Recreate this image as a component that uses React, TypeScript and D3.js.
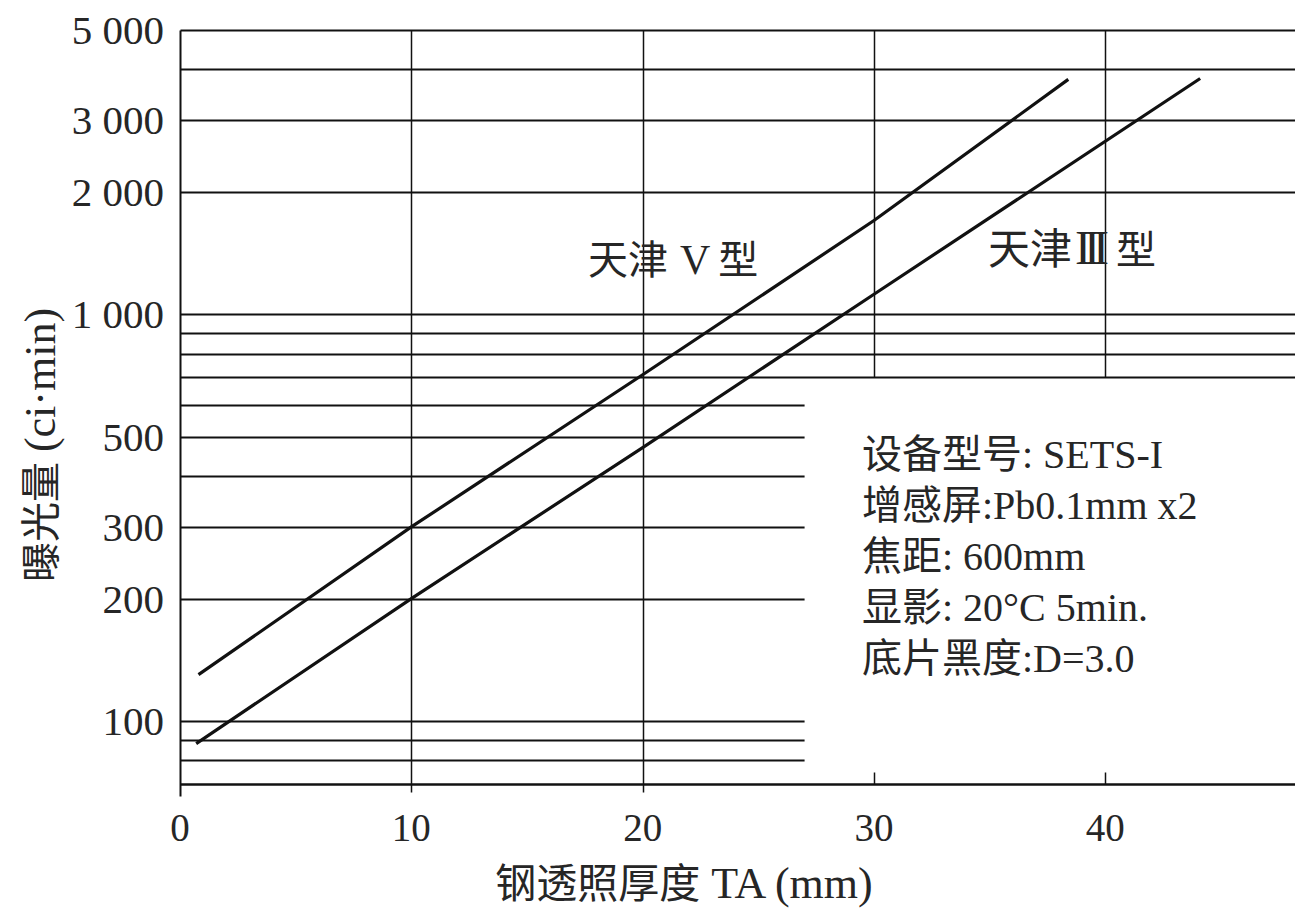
import React from 'react';
import * as d3 from 'd3';

// ---- data ----
const xTickValues = [0, 10, 20, 30, 40];
const xTickLabels = ['0', '10', '20', '30', '40'];
const yTickValues = [5000, 3000, 2000, 1000, 500, 300, 200, 100];
const yTickLabels = ['5 000', '3 000', '2 000', '1 000', '500', '300', '200', '100'];
const fullGridValues = [5000, 4000, 3000, 2000, 1000, 900, 800, 700];
const shortGridValues = [600, 500, 400, 300, 200, 100, 90, 80];
const fullVerticals = [10, 20];
const upperVerticals = [30, 40];

const seriesV = ['天津', 'V', '型'];
const seriesIII = ['天津', 'III', '型'];
const thicknessV = [0.8, 10, 20, 30, 38.4];
const exposureV = [130, 300, 710, 1700, 3780];
const thicknessIII = [0.7, 10, 20, 30, 44.1];
const exposureIII = [88, 200, 470, 1120, 3800];

const notes = [
  '设备型号: SETS-I',
  '增感屏:Pb0.1mm x2',
  '焦距: 600mm',
  '显影: 20°C 5min.',
  '底片黑度:D=3.0',
];

const xTitleCjk = '钢透照厚度';
const xTitleLatin = ' TA (mm)';
const yTitleCjk = '曝光量 ';
const yTitleLatin = '(ci·min)';

// ---- layout ----
const W = 1295;
const H = 910;
const SERIF = "'Liberation Serif', 'Noto Sans CJK SC', serif";
const CJK = "'Noto Sans CJK SC', sans-serif";
const INK = '#111';
const TEXT = '#262626';

const snap = (v: number) => Math.round(v) + 0.5;

export default function App() {
  const x = d3.scaleLinear().domain([0, 48.2]).range([180, 1295]);
  const y = d3.scaleLog().domain([70, 5000]).range([784, 30]);
  const line = d3
    .line<[number, number]>()
    .x((d) => x(d[0]))
    .y((d) => y(d[1]));

  const dataV: [number, number][] = thicknessV.map((t, i) => [t, exposureV[i]]);
  const dataIII: [number, number][] = thicknessIII.map((t, i) => [t, exposureIII[i]]);
  const x0 = snap(x(0));
  const shortEnd = x(27);
  const yBottom = snap(y(70));
  const yTop = snap(y(5000));

  return (
    <svg
      width={W}
      height={H}
      style={{ position: 'absolute', left: 0, top: 0, background: '#fff' }}
      fontFamily={SERIF}
    >
      <rect x={0} y={0} width={W} height={H} fill="#fff" />

      {/* horizontal grid lines, full width */}
      {fullGridValues.map((v) => (
        <line key={'f' + v} x1={x0} x2={W} y1={snap(y(v))} y2={snap(y(v))} stroke={INK} strokeWidth={2} />
      ))}
      {/* horizontal grid lines, short */}
      {shortGridValues.map((v) => (
        <line key={'s' + v} x1={x0} x2={shortEnd} y1={snap(y(v))} y2={snap(y(v))} stroke={INK} strokeWidth={2} />
      ))}
      {/* bottom axis */}
      <line x1={x0} x2={W} y1={yBottom} y2={yBottom} stroke={INK} strokeWidth={2.4} />
      {/* left axis */}
      <line x1={x0} x2={x0} y1={yTop} y2={yBottom + 12} stroke={INK} strokeWidth={2} />
      {/* full verticals */}
      {fullVerticals.map((v) => (
        <line key={'v' + v} x1={snap(x(v))} x2={snap(x(v))} y1={yTop} y2={yBottom + 8} stroke={INK} strokeWidth={1.5} />
      ))}
      {/* upper verticals */}
      {upperVerticals.map((v) => (
        <g key={'u' + v}>
          <line x1={snap(x(v))} x2={snap(x(v))} y1={yTop} y2={snap(y(700))} stroke={INK} strokeWidth={1.5} />
          <line x1={snap(x(v))} x2={snap(x(v))} y1={yBottom - 12} y2={yBottom} stroke={INK} strokeWidth={1.5} />
        </g>
      ))}

      {/* series lines */}
      <path d={line(dataV) || ''} fill="none" stroke={INK} strokeWidth={3.2} />
      <path d={line(dataIII) || ''} fill="none" stroke={INK} strokeWidth={3.2} />

      {/* y tick labels */}
      {yTickValues.map((v, i) => (
        <text key={'yl' + v} x={164} y={y(v) + 14} textAnchor="end" fontSize={41} fill={TEXT}>
          {yTickLabels[i]}
        </text>
      ))}
      {/* x tick labels */}
      {xTickValues.map((v, i) => (
        <text key={'xl' + v} x={x(v)} y={841} textAnchor="middle" fontSize={39} fill={TEXT}>
          {xTickLabels[i]}
        </text>
      ))}

      {/* axis titles */}
      <text x={684} y={898} textAnchor="middle" fill={TEXT}>
        <tspan fontSize={41}>{xTitleCjk}</tspan>
        <tspan fontSize={44}>{xTitleLatin}</tspan>
      </text>
      <text transform="translate(55,445) rotate(-90)" textAnchor="middle" fill={TEXT}>
        <tspan fontSize={40}>{yTitleCjk}</tspan>
        <tspan fontSize={44}>{yTitleLatin}</tspan>
      </text>

      {/* series labels */}
      <text x={588} y={274} fill={TEXT}>
        <tspan fontSize={40} fontFamily={CJK}>{seriesV[0]}</tspan>
        <tspan fontSize={42} dx={12}>{seriesV[1]}</tspan>
        <tspan fontSize={40} fontFamily={CJK} dx={8}>{seriesV[2]}</tspan>
      </text>
      <text x={988} y={264} fill={TEXT}>
        <tspan fontSize={42} fontFamily={CJK}>{seriesIII[0]}</tspan>
        <tspan fontSize={48} letterSpacing={-7} dx={3}>{seriesIII[1]}</tspan>
        <tspan fontSize={40} fontFamily={CJK} dx={14}>{seriesIII[2]}</tspan>
      </text>

      {/* notes */}
      {notes.map((n, i) => (
        <text key={'n' + i} x={862} y={468 + i * 51} fontSize={40} fill={TEXT}>
          {n}
        </text>
      ))}
    </svg>
  );
}
